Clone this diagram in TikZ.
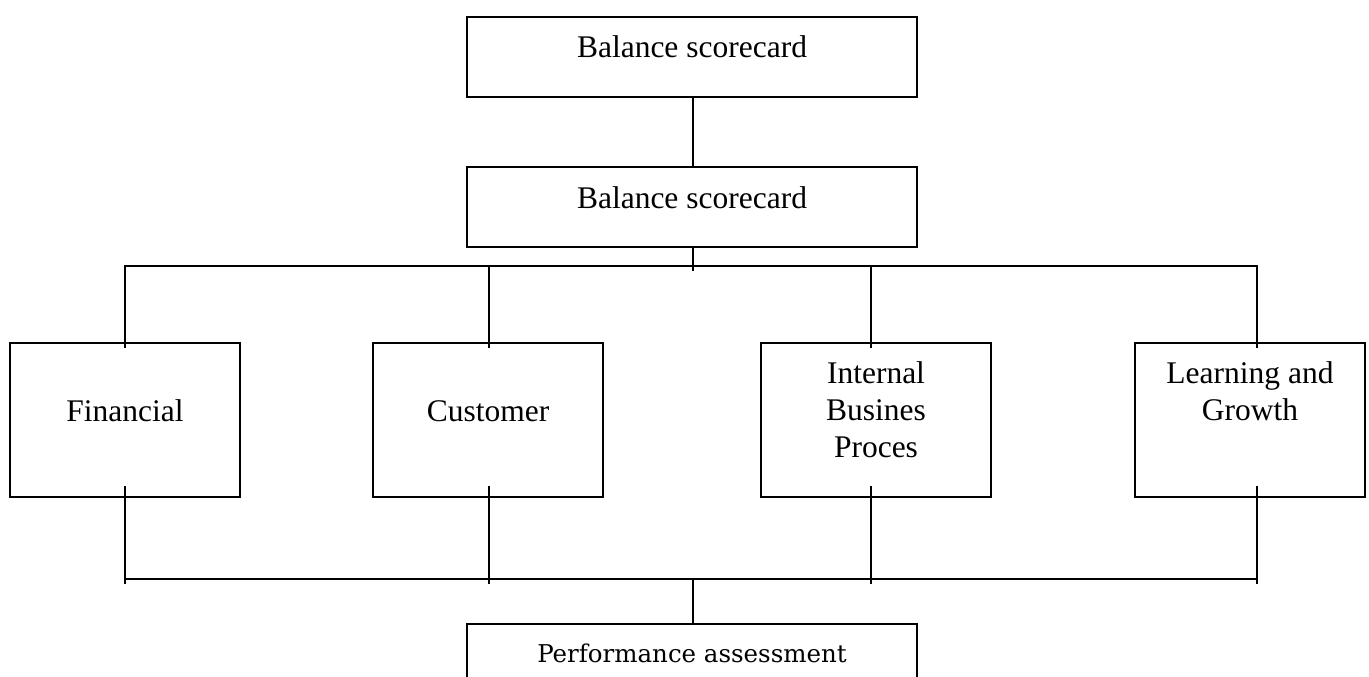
\documentclass[tikz,border=0pt]{standalone}
\usepackage{fontspec}
\setmainfont{Liberation Serif}
\newfontfamily\perffont{DejaVu Serif}
\begin{document}
\begin{tikzpicture}[x=1pt,y=-1pt,
  box/.style={draw, line width=1.8pt, inner sep=0pt},
  wire/.style={line width=1.8pt},
  lbl/.style={font=\fontsize{31.5}{37}\selectfont, inner sep=0pt, align=center}]
\useasboundingbox (0,0) rectangle (1369,677);
\clip (0,0) rectangle (1369,677);
% boxes
\node[box, minimum width=450pt, minimum height=80pt] (top) at (692,57) {};
\node[box, minimum width=450pt, minimum height=80pt] (mid) at (692,207) {};
\node[box, minimum width=230pt, minimum height=154pt] (fin) at (125,420) {};
\node[box, minimum width=230pt, minimum height=154pt] (cus) at (488,420) {};
\node[box, minimum width=230pt, minimum height=154pt] (ibp) at (876,420) {};
\node[box, minimum width=230pt, minimum height=154pt] (lag) at (1250,420) {};
\node[box, minimum width=450pt, minimum height=90pt] (perf) at (692,669) {};
% texts
\node[lbl, anchor=base] (ttop) at (692,58) {Balance scorecard};
\node[lbl, anchor=base] (tmid) at (692,208) {Balance scorecard};
\node[lbl, anchor=base] (tfin) at (125,421) {Financial};
\node[lbl, anchor=base] (tcus) at (488,421) {Customer};
\node[lbl, anchor=north] (tibp) at (876,361.5) {Internal\\Busines\\Proces};
\node[lbl, anchor=north] (tlag) at (1250,361.5) {Learning and\\Growth};
\node[anchor=base, inner sep=0pt, font=\perffont\fontsize{24.5}{29}\selectfont] (tperf) at (692,662) {Performance assessment};
% bus coordinates
\coordinate (busT) at (693,266);
\coordinate (busB) at (693,579);
% connectors
\draw[wire] (top.south -| busT) -- (mid.north -| busT);
\draw[wire] (mid.south -| busT) -- ([yshift=-5pt]busT);
\draw[wire] ([yshift=-6pt]fin.north) -- (fin.north |- busT) -- (busT -| 1257,0) -- ([yshift=-6pt]lag.north -| 1257,0);
\draw[wire] ([yshift=-6pt]cus.north -| 489,0) -- (busT -| 489,0);
\draw[wire] ([yshift=-6pt]ibp.north -| 871,0) -- (busT -| 871,0);
\draw[wire] (fin.south |- busB) -- (busB -| 1257,0);
\draw[wire] ([yshift=12pt]fin.south) -- ([yshift=-5pt]fin.south |- busB);
\draw[wire] ([yshift=12pt]cus.south -| 489,0) -- ([yshift=-5pt]busB -| 489,0);
\draw[wire] ([yshift=12pt]ibp.south -| 871,0) -- ([yshift=-5pt]busB -| 871,0);
\draw[wire] ([yshift=12pt]lag.south -| 1257,0) -- ([yshift=-5pt]busB -| 1257,0);
\draw[wire] (busB) -- (perf.north -| busB);
\end{tikzpicture}
\end{document}
